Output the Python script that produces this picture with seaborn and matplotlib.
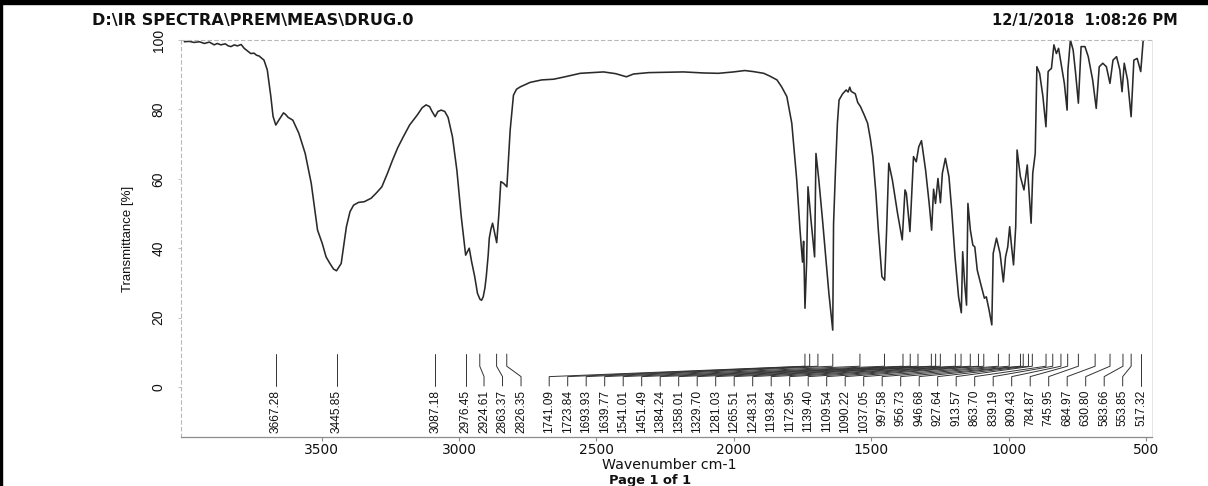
import matplotlib
matplotlib.use("Agg")
import matplotlib.pyplot as plt
from matplotlib import font_manager
from matplotlib.patches import Rectangle
import numpy as np
import pandas as pd
import seaborn as sns

# ---------------- data ----------------
wavenumber = [
    4000, 3982, 3964, 3945, 3927, 3909, 3891, 3880, 3867, 3851, 3840, 3830, 3818, 3807,
    3793, 3782, 3771, 3758, 3746, 3737, 3728, 3710, 3698, 3685, 3677, 3667, 3656, 3639,
    3632, 3622, 3605, 3583, 3560, 3538, 3515, 3498, 3484, 3470, 3457, 3446, 3429, 3410,
    3397, 3384, 3366, 3345, 3320, 3300, 3281, 3261, 3242, 3223, 3203, 3180, 3152, 3134,
    3120, 3107, 3099, 3087, 3077, 3065, 3052, 3040, 3024, 3008, 2992, 2976, 2963, 2954,
    2943, 2933, 2924, 2918, 2912, 2906, 2901, 2894, 2890, 2884, 2878, 2872, 2863, 2855,
    2848, 2838, 2826, 2820, 2814, 2802, 2791, 2777, 2741, 2699, 2656, 2620, 2559, 2474,
    2430, 2391, 2365, 2310, 2183, 2110, 2056, 2001, 1960, 1929, 1891, 1869, 1843, 1826,
    1807, 1789, 1771, 1759, 1750, 1746, 1741, 1735, 1730, 1719, 1706, 1701, 1691, 1677,
    1654, 1640, 1637, 1630, 1623, 1617, 1604, 1591, 1584, 1578, 1573, 1558, 1549, 1539,
    1526, 1513, 1503, 1494, 1483, 1474, 1461, 1451, 1444, 1436, 1423, 1404, 1387, 1377,
    1372, 1359, 1346, 1336, 1327, 1317, 1302, 1289, 1280, 1273, 1266, 1257, 1248, 1241,
    1230, 1217, 1207, 1195, 1182, 1172, 1167, 1160, 1153, 1148, 1139, 1130, 1123, 1114,
    1102, 1088, 1081, 1071, 1061, 1056, 1044, 1031, 1019, 1011, 1003, 996, 989, 982,
    974, 969, 957, 944, 932, 918, 912, 903, 897, 887, 875, 864, 856, 850,
    844, 835, 826, 818, 809, 797, 787, 784, 775, 765, 756, 746, 736, 722,
    710, 694, 681, 670, 657, 644, 631, 620, 607, 595, 587, 579, 567, 554,
    544, 532, 519, 510,
]
transmittance = [
    99.5, 99.6, 99.3, 99.5, 99.0, 99.4, 98.6, 99.0, 98.6, 98.9, 98.3, 98.1, 98.6, 98.3,
    98.7, 97.6, 96.9, 96.1, 96.2, 95.6, 95.4, 94.2, 91.4, 83.7, 78.0, 75.5, 76.9, 79.0,
    78.6, 77.7, 76.9, 73.1, 67.3, 58.7, 45.2, 41.4, 37.5, 35.6, 34.0, 33.5, 35.6, 46.2,
    50.5, 52.4, 53.2, 53.4, 54.4, 56.0, 57.7, 61.5, 65.4, 69.0, 72.1, 75.5, 78.4, 80.5,
    81.3, 80.8, 79.5, 77.9, 79.4, 79.8, 79.4, 77.7, 72.1, 62.5, 49.1, 38.0, 40.0, 36.0,
    31.8, 27.0, 25.3, 25.0, 26.0, 28.5, 31.8, 38.0, 42.9, 45.5, 47.2, 45.0, 41.6, 50.0,
    59.2, 58.7, 57.7, 66.0, 74.0, 84.1, 85.8, 86.5, 87.8, 88.5, 88.7, 89.3, 90.4, 90.8,
    90.3, 89.4, 90.2, 90.6, 90.8, 90.5, 90.4, 90.8, 91.2, 90.9, 90.4, 89.6, 88.5, 86.5,
    83.7, 76.0, 59.7, 45.2, 36.0, 42.0, 22.7, 36.0, 57.7, 48.0, 37.5, 67.3, 60.0, 48.0,
    27.0, 16.4, 47.0, 62.5, 76.0, 82.7, 84.5, 85.6, 85.0, 86.4, 85.2, 84.5, 82.0, 80.8,
    78.5, 76.0, 71.5, 66.4, 56.0, 45.2, 31.8, 30.8, 45.0, 64.5, 59.7, 50.0, 42.4, 56.8,
    55.8, 44.8, 66.4, 64.9, 69.2, 71.0, 62.5, 52.9, 45.2, 57.0, 52.9, 60.1, 53.1, 61.6,
    65.9, 60.6, 51.0, 37.5, 26.0, 21.4, 39.0, 30.0, 23.6, 52.9, 45.2, 40.9, 40.4, 33.7,
    29.9, 25.6, 26.0, 22.2, 17.9, 38.5, 42.9, 38.5, 30.3, 37.5, 40.4, 46.2, 40.4, 35.2,
    46.2, 68.3, 60.6, 56.8, 64.0, 47.2, 61.6, 67.3, 92.3, 90.4, 83.7, 75.0, 90.9, 91.4,
    91.8, 98.6, 96.1, 97.6, 93.3, 87.5, 79.8, 91.4, 100.0, 97.1, 90.4, 81.8, 98.1, 98.1,
    95.2, 88.5, 80.3, 92.3, 93.3, 92.3, 87.5, 94.2, 95.2, 91.4, 85.1, 93.3, 88.5, 77.9,
    94.2, 94.7, 90.9, 100.0,
]
peak_labels = [
    3667.28, 3445.85, 3087.18, 2976.45, 2924.61, 2863.37, 2826.35,
    1741.09, 1723.84, 1693.93, 1639.77, 1541.01, 1451.49, 1384.24, 1358.01, 1329.70,
    1281.03, 1265.51, 1248.31, 1193.84, 1172.95, 1139.40, 1109.54, 1090.22, 1037.05,
    997.58, 956.73, 946.68, 927.64, 913.57, 863.70, 839.19, 809.43, 784.87, 745.95,
    684.97, 630.80, 583.66, 553.85, 517.32,
]
x_ticks = [3500, 3000, 2500, 2000, 1500, 1000, 500]
y_ticks = [0, 20, 40, 60, 80, 100]
header_left = r"D:\IR SPECTRA\PREM\MEAS\DRUG.0"
header_right = "12/1/2018  1:08:26 PM"
x_title = "Wavenumber cm-1"
y_title = "Transmittance [%]"
footer = "Page 1 of 1"

# ---------------- style ----------------
sns.set_theme(style="white")
plt.rcParams["font.family"] = ["DejaVu Sans"]

names = {f.name for f in font_manager.fontManager.ttflist}
if "Liberation Sans Narrow" in names:
    narrow, narrow_size = "Liberation Sans Narrow", 10.5
else:
    narrow, narrow_size = "Liberation Sans", 8.6

W, H = 1208, 486
fig = plt.figure(figsize=(W / 100, H / 100), dpi=100)
fig.patch.set_facecolor("white")
ax_l, ax_r, ax_t, ax_b = 181, 1152, 40, 437
ax = fig.add_axes([ax_l / W, (H - ax_b) / H, (ax_r - ax_l) / W, (ax_b - ax_t) / H])

df = pd.DataFrame({"wavenumber": wavenumber, "transmittance": transmittance})
sns.lineplot(data=df, x="wavenumber", y="transmittance", ax=ax, color="#2a2a2a",
             linewidth=1.15, estimator=None, sort=False)

xlim = (4012, 478)
ax.set_xlim(*xlim)
ax.set_ylim(-14.4, 100)

# spines
for s in ["top", "left"]:
    ax.spines[s].set_color("#b8b8b8")
    ax.spines[s].set_linestyle((0, (3, 3)))
    ax.spines[s].set_linewidth(0.8)
ax.spines["bottom"].set_color("#8c8c8c")
ax.spines["bottom"].set_linewidth(0.9)
ax.spines["right"].set_color("#e2e2e2")
ax.spines["right"].set_linewidth(0.6)

ax.set_xticks(x_ticks)
ax.set_yticks(y_ticks)
ax.tick_params(axis="x", direction="out", length=3, width=0.8, color="#8c8c8c",
               pad=1.5, labelsize=10, labelcolor="#111111", bottom=True)
ax.tick_params(axis="y", direction="out", length=2, width=0.6, color="#b8b8b8",
               pad=9, labelsize=10, labelcolor="#111111", left=True,
               labelrotation=90)
for lbl in ax.get_yticklabels():
    lbl.set_family(narrow)
    lbl.set_va("center")

ax.set_xlabel(x_title, fontsize=10.2, color="#111111")
ax.xaxis.set_label_coords(0.5026, -0.054)
ax.set_ylabel(y_title, fontsize=9.5, family=narrow, color="#111111")
ax.yaxis.set_label_coords(-0.048, 0.5)
ax.grid(False)

# ---------------- peak labels with connectors ----------------
px_per_unit = (ax_r - ax_l) / (xlim[0] - xlim[1])
gap = 18.5 / px_per_unit
peaks = sorted(peak_labels, reverse=True)
u = [xlim[0] - p for p in peaks]          # increases left to right
pos = []
for i, ui in enumerate(u):
    pos.append(ui if i == 0 else max(ui, pos[-1] + gap))
pos[-1] = u[-1]
for i in range(len(pos) - 2, -1, -1):
    pos[i] = min(pos[i], pos[i + 1] - gap)
label_x = [xlim[0] - q for q in pos]

y_top, y_bend1, y_bend2, y_bot, y_text = 9.5, 6.0, 3.0, 0.3, -0.8
for p, lx in zip(peaks, label_x):
    if abs(lx - p) < 1e-6:
        xs, ys = [p, p], [y_top, y_bot]
    else:
        xs, ys = [p, p, lx, lx], [y_top, y_bend1, y_bend2, y_bot]
    ax.plot(xs, ys, color="#333333", linewidth=0.7, solid_joinstyle="miter")
    ax.text(lx, y_text, f"{p:.2f}", rotation=90, ha="center", va="top",
            fontsize=narrow_size, family=narrow, color="#111111")

# ---------------- header / footer ----------------
fig.text(92 / W, 1 - 21 / H, header_left, ha="left", va="center", fontsize=11.6,
         fontweight="bold", color="#111111")
fig.text(1178 / W, 1 - 21 / H, header_right, ha="right", va="center", fontsize=10.5,
         fontweight="bold", color="#111111")
fig.text(650 / W, 1 - 480 / H, footer, ha="center", va="center", fontsize=9.4,
         fontweight="bold", color="#111111")

# photo frame edges
fig.patches.append(Rectangle((0, 1 - 4 / H), 1, 4 / H, transform=fig.transFigure,
                             color="black", zorder=10))
fig.patches.append(Rectangle((0, 0), 2 / W, 1, transform=fig.transFigure,
                             color="black", zorder=10))

fig.savefig("out.png", dpi=100)
